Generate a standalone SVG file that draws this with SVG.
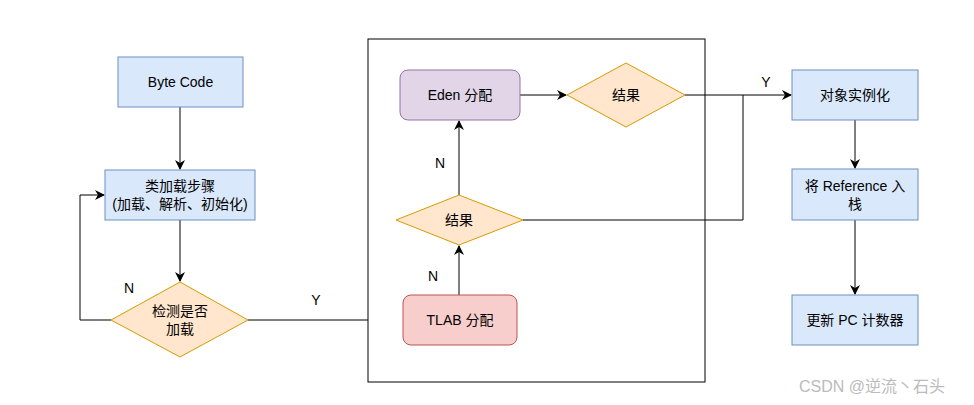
<svg xmlns="http://www.w3.org/2000/svg" width="974" height="405" viewBox="0 0 974 405">
<style>
text{font-family:"Liberation Sans","Noto Sans CJK SC",sans-serif;font-size:14px;fill:#000;text-anchor:middle;dominant-baseline:central}
.blue{fill:#dae8fc;stroke:#6c8ebf;stroke-width:1}
.dia{fill:#ffe6cc;stroke:#d79b00;stroke-width:1}
.con{fill:none;stroke:#000;stroke-width:1}
</style>
<defs>
<marker id="arr" viewBox="0 0 10 10" refX="9" refY="5" markerWidth="10" markerHeight="10" markerUnits="userSpaceOnUse" orient="auto">
<path d="M0,0 L10,5 L0,10 L3,5 Z" fill="#000"/>
</marker>
</defs>
<rect width="974" height="405" fill="#fff"/>
<g id="container"><rect x="368" y="39" width="337" height="343" fill="none" stroke="#000" stroke-width="1"/></g>
<g id="connectors">
<path class="con" d="M180,107 V169" marker-end="url(#arr)"/>
<path class="con" d="M180,220 V281" marker-end="url(#arr)"/>
<path class="con" d="M111,320 H80 V195 H104" marker-end="url(#arr)"/>
<path class="con" d="M248,320 H368"/>
<path class="con" d="M459,295 V246" marker-end="url(#arr)"/>
<path class="con" d="M459,195 V121" marker-end="url(#arr)"/>
<path class="con" d="M520,95 H566" marker-end="url(#arr)"/>
<path class="con" d="M685,95 H791" marker-end="url(#arr)"/>
<path class="con" d="M523,220 H743 V95"/>
<path class="con" d="M855,120 V168" marker-end="url(#arr)"/>
<path class="con" d="M855,220 V294" marker-end="url(#arr)"/>
<text x="129" y="288">N</text>
<text x="316" y="300">Y</text>
<text x="440" y="163">N</text>
<text x="433" y="276">N</text>
<text x="766" y="82">Y</text>
</g>
<g id="bytecode"><rect class="blue" x="118" y="57" width="125" height="50"/><text x="180.5" y="82">Byte Code</text></g>
<g id="classload"><rect class="blue" x="105" y="170" width="150" height="50"/><text x="180" y="186">类加载步骤</text><text x="180" y="204">(加载、解析、初始化)</text></g>
<g id="check"><polygon class="dia" points="180,282 248,320 180,357 111,320"/><text x="180" y="311">检测是否</text><text x="180" y="329">加载</text></g>
<g id="eden"><rect x="400" y="70" width="120" height="50" rx="8" fill="#e1d5e7" stroke="#9673a6"/><text x="460" y="95">Eden 分配</text></g>
<g id="result1"><polygon class="dia" points="626,63 685,95 626,127 567,95"/><text x="626" y="95">结果</text></g>
<g id="result2"><polygon class="dia" points="459,195 523,220 459,245 396,220"/><text x="459" y="220">结果</text></g>
<g id="tlab"><rect x="403" y="295" width="114" height="50" rx="8" fill="#f8cecc" stroke="#b85450"/><text x="460" y="320">TLAB 分配</text></g>
<g id="instantiate"><rect class="blue" x="792" y="70" width="126" height="50"/><text x="855" y="95">对象实例化</text></g>
<g id="pushref"><rect class="blue" x="792" y="169" width="126" height="51"/><text x="855" y="186">将 Reference 入</text><text x="855" y="204">栈</text></g>
<g id="updatepc"><rect class="blue" x="792" y="295" width="126" height="50"/><text x="855" y="320">更新 PC 计数器</text></g>
<text x="872" y="386" style="font-size:16px;fill:#bbb">CSDN @逆流丶石头</text>
</svg>
